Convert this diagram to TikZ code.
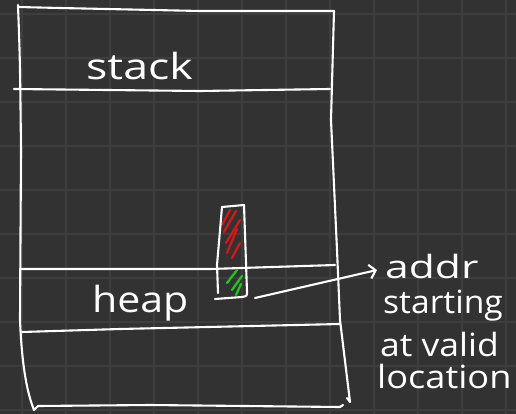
\documentclass[tikz,border=0pt]{standalone}
\usepackage{fontspec}
\setmainfont{Open Sans}
\usetikzlibrary{arrows.meta}
\definecolor{bg}{HTML}{323232}
\definecolor{gridc}{HTML}{3E3E3E}
\definecolor{hatchred}{HTML}{D81818}
\definecolor{hatchgreen}{HTML}{1FC81F}
\begin{document}
\begin{tikzpicture}[x=1pt,y=-1pt,
  pen/.style={draw=white, line width=2.1pt, line cap=round, line join=round},
  redhatch/.style={draw=hatchred, line width=2.2pt, line cap=round},
  greenhatch/.style={draw=hatchgreen, line width=2.2pt, line cap=round},
  bigtxt/.style={text=white, inner sep=0pt, anchor=base west, font=\fontsize{36}{36}\selectfont},
  smalltxt/.style={text=white, inner sep=0pt, anchor=base west, font=\fontsize{32}{32}\selectfont}]
\fill[bg] (0,0) rectangle (516,414);
\useasboundingbox (0,0) rectangle (516,414);
\foreach \x in {22,66,...,506} \draw[gridc, line width=1.2pt] (\x,0) -- (\x,414);
\foreach \y in {14,58,...,410} \draw[gridc, line width=1.2pt] (0,\y) -- (516,\y);

% outer memory box
\draw[pen] (18,5) .. controls (20,60) .. (21,150) -- (20,320)
  .. controls (22,370) and (28,395) .. (34,410) -- (38,406) -- (150,405) -- (340,407) -- (343,405);
\draw[pen] (18,7) -- (60,8) -- (200,11) -- (334,11);
\draw[pen] (334,11) -- (331,120) -- (337,250) -- (340,320) -- (350,402) -- (347,398);

% stack divider
\draw[pen] (14,89) -- (200,91) -- (330,89);
% heap dividers
\draw[pen] (20,269) -- (210,269) -- (335,265);
\draw[pen] (22,332) -- (120,329) -- (340,324);

% labels
\node[bigtxt] (stack) at (86,80) {\scalebox{1.24}[1]{stack}};
\node[bigtxt] (heap) at (92,312) {\scalebox{1.14}[1]{heap}};

% allocated block
\draw[redhatch] (230,210) -- (222,225);
\draw[redhatch] (236,211) -- (224,232);
\draw[redhatch] (240,220) -- (226,243);
\draw[redhatch] (237,229) -- (227,253);
\draw[redhatch] (240,243) -- (232,258);
\draw[greenhatch] (237,270) -- (227,283);
\draw[greenhatch] (242,276) -- (232,290);
\draw[greenhatch] (241,284) -- (236,295);
\draw[pen] (222,207) -- (244,205) -- (247,292) .. controls (247,296) .. (242,297) -- (215,299);
\draw[pen] (222,207) -- (217,265) -- (218,293);

% annotation
\node[smalltxt] (addr) at (385,278) {\scalebox{1.33}[1]{addr}};
\node[smalltxt] (starting) at (383,313) {\scalebox{1.05}[1]{starting}};
\node[smalltxt] (atvalid) at (380,356) {\scalebox{1.11}[1]{at valid}};
\node[smalltxt] (location) at (377,388) {\scalebox{1.13}[1]{location}};
\coordinate (blk) at (255,298);
\coordinate (tip) at (377,270);
\draw[pen, -{Straight Barb[length=6pt,width=14pt]}] (blk) -- (tip);
\end{tikzpicture}
\end{document}
